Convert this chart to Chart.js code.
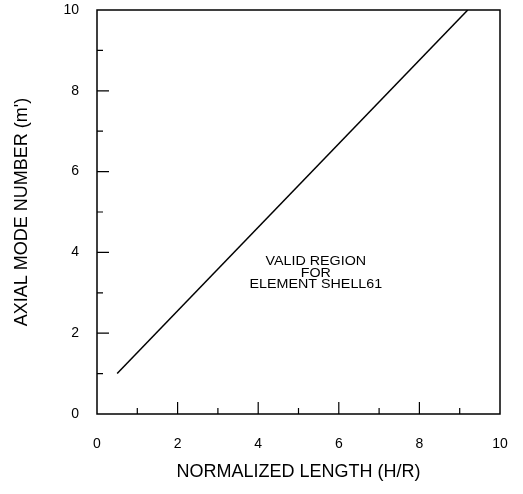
<!DOCTYPE html>
<html>
<head>
<meta charset="utf-8">
<script src="https://cdn.jsdelivr.net/npm/chart.js@4.4.0/dist/chart.umd.min.js"></script>
<style>
  html, body { margin: 0; padding: 0; background: #ffffff; }
  #wrap { width: 523px; height: 494px; position: relative; }
</style>
</head>
<body>
<div id="wrap"><canvas id="c" width="523" height="494"></canvas></div>
<script>
// ---- data ----
const lineX = [0.5, 9.2];          // normalized length H/R
const lineY = [1.0, 10.0];         // axial mode number m'
const xTickValues = [0, 2, 4, 6, 8, 10];
const yTickValues = [0, 2, 4, 6, 8, 10];
const minorTickValues = [1, 3, 5, 7, 9];
const majorInnerTicks = [2, 4, 6, 8];
const xTitle = 'NORMALIZED LENGTH (H/R)';
const yTitle = "AXIAL MODE NUMBER (m')";
const annotationLines = ['VALID REGION', 'FOR', 'ELEMENT SHELL61'];

const FONT = '"Liberation Sans", Arial, Helvetica, sans-serif';

const points = lineX.map((x, i) => ({ x: x, y: lineY[i] }));

const framePlugin = {
  id: 'frameAndTicks',
  afterDatasetsDraw(chart) {
    const { ctx, chartArea: a, scales } = chart;
    const xs = scales.x, ys = scales.y;
    ctx.save();
    ctx.strokeStyle = '#000';
    ctx.lineWidth = 1.5;
    ctx.strokeRect(a.left, a.top, a.right - a.left, a.bottom - a.top);
    ctx.lineWidth = 1.2;
    ctx.beginPath();
    minorTickValues.concat(majorInnerTicks).forEach(v => {
      const len = majorInnerTicks.includes(v) ? 12 : 6;
      const px = xs.getPixelForValue(v);
      ctx.moveTo(px, a.bottom);
      ctx.lineTo(px, a.bottom - len);
      const py = ys.getPixelForValue(v);
      ctx.moveTo(a.left, py);
      ctx.lineTo(a.left + len, py);
    });
    ctx.stroke();

    // annotation text
    const cx = xs.getPixelForValue(5.43);
    const cy = ys.getPixelForValue(3.49);
    ctx.fillStyle = '#000';
    ctx.font = '13px ' + FONT;
    ctx.textAlign = 'center';
    ctx.textBaseline = 'middle';
    annotationLines.forEach((t, i) => {
      ctx.save();
      ctx.translate(cx, cy + (i - 1) * 11.5);
      ctx.scale(1.1, 1);
      ctx.fillText(t, 0, 0);
      ctx.restore();
    });
    ctx.restore();
  }
};

function zeroPad(s) {
  s.paddingTop = 0; s.paddingBottom = 0; s.paddingLeft = 0; s.paddingRight = 0;
}

new Chart(document.getElementById('c'), {
  type: 'scatter',
  data: {
    datasets: [{
      data: points,
      showLine: true,
      borderColor: '#000',
      borderWidth: 1.5,
      pointRadius: 0,
      pointHoverRadius: 0,
      tension: 0,
      fill: false
    }]
  },
  options: {
    responsive: false,
    animation: false,
    events: [],
    layout: { padding: { top: 10, right: 23, left: 0, bottom: 0 } },
    plugins: {
      legend: { display: false },
      tooltip: { enabled: false }
    },
    scales: {
      x: {
        type: 'linear',
        min: 0, max: 10,
        afterFit(s) { s.height = 80; zeroPad(s); },
        afterBuildTicks(s) { s.ticks = xTickValues.map(v => ({ value: v })); },
        grid: { display: false, drawTicks: false },
        border: { display: false },
        ticks: {
          padding: 22,
          color: '#000',
          font: { family: FONT, size: 14 },
          maxRotation: 0
        },
        title: {
          display: true,
          text: xTitle,
          color: '#000',
          font: { family: FONT, size: 18 },
          padding: { top: 0, bottom: 11 }
        }
      },
      y: {
        type: 'linear',
        min: 0, max: 10,
        afterFit(s) { s.width = 97; zeroPad(s); },
        afterBuildTicks(s) { s.ticks = yTickValues.map(v => ({ value: v })); },
        grid: { display: false, drawTicks: false },
        border: { display: false },
        ticks: {
          padding: 18,
          color: '#000',
          font: { family: FONT, size: 14 }
        },
        title: {
          display: true,
          text: yTitle,
          color: '#000',
          font: { family: FONT, size: 18 },
          padding: { top: 11, bottom: 0 }
        }
      }
    }
  },
  plugins: [framePlugin]
});
</script>
</body>
</html>
